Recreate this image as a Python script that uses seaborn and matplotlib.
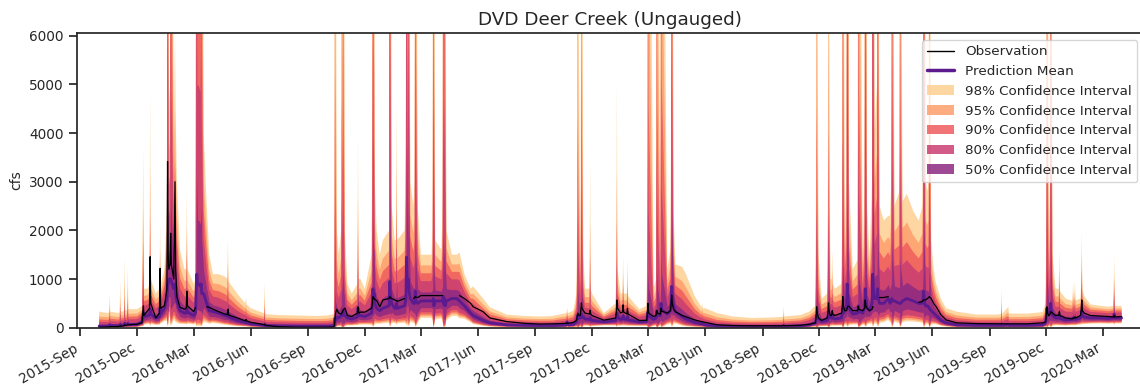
import numpy as np
import pandas as pd
import matplotlib
matplotlib.use("Agg")
import matplotlib.pyplot as plt
import matplotlib.dates as mdates
from matplotlib.patches import Patch
from matplotlib.lines import Line2D
import seaborn as sns

nan = np.nan

# ---- Water year 2016 -------------------------------------------------------
dates_wy2016 = [
    "2015-10-01", "2015-10-15", "2015-10-17", "2015-10-18", "2015-10-19", "2015-11-01",
    "2015-11-03", "2015-11-04", "2015-11-05", "2015-11-10", "2015-11-11", "2015-11-12",
    "2015-11-15", "2015-11-16", "2015-11-17", "2015-12-01", "2015-12-09", "2015-12-11",
    "2015-12-12", "2015-12-18", "2015-12-21", "2015-12-22", "2015-12-23", "2015-12-31",
    "2016-01-06", "2016-01-07", "2016-01-08", "2016-01-14", "2016-01-18", "2016-01-19",
    "2016-01-20", "2016-01-21", "2016-01-23", "2016-01-24", "2016-01-25", "2016-01-29",
    "2016-01-31", "2016-02-01", "2016-02-03", "2016-02-08", "2016-02-15", "2016-02-18",
    "2016-02-19", "2016-02-20", "2016-03-01", "2016-03-04", "2016-03-05", "2016-03-06",
    "2016-03-07", "2016-03-09", "2016-03-12", "2016-03-13", "2016-03-14", "2016-03-17",
    "2016-03-22", "2016-03-26", "2016-04-01", "2016-04-10", "2016-04-20", "2016-04-24",
    "2016-04-25", "2016-04-26", "2016-05-10", "2016-05-23", "2016-05-24", "2016-05-25",
    "2016-06-01", "2016-06-15", "2016-06-22", "2016-06-23", "2016-06-24", "2016-07-15",
    "2016-08-15", "2016-09-15",
]
obs_wy2016 = [
    10, 15, 18, 25, 20, 25,
    30, 40, 30, 40, 60, 50,
    55, 70, 60, 70, 100, 450,
    250, 350, 400, 1460, 500, 200,
    300, 1220, 400, 450, 800, 3415,
    1500, 1200, 1300, 1940, 1300, 1000,
    3000, 1200, 640, 420, 380, 400,
    750, 450, 330, 420, nan, nan,
    nan, nan, nan, nan, nan, nan,
    430, 420, 380, 330, 280, 270,
    380, 260, 200, 140, 170, 140,
    110, 80, 60, 70, 50, 20,
    10, 10,
]
mean_wy2016 = [
    35, 35, 40, 60, 45, 40,
    45, 70, 50, 55, 90, 60,
    60, 90, 65, 70, 120, 310,
    220, 250, 260, 380, 280, 200,
    220, 400, 280, 400, 600, 900,
    900, 1000, 1000, 1000, 950, 800,
    900, 700, 550, 350, 300, 300,
    400, 320, 250, 300, 800, 1100,
    900, 900, 850, 900, 700, 700,
    500, 350, 330, 300, 250, 240,
    300, 220, 150, 110, 120, 105,
    80, 60, 50, 70, 45, 40,
    35, 35,
]
upper98_wy2016 = [
    330, 300, 320, 700, 330, 300,
    320, 950, 330, 340, 1450, 360,
    360, 1250, 380, 380, 450, 3700,
    800, 800, 900, 4900, 1000, 700,
    800, 2100, 900, 1200, 2500, 35000,
    21000, 4500, 5000, 30000, 18000, 4000,
    6000, 4500, 3000, 1600, 1200, 1200,
    2800, 1200, 900, 1000, 20000, 40000,
    20000, 20000, 20000, 30000, 18000, 4000,
    2500, 1500, 1100, 1100, 1050, 1000,
    1800, 950, 700, 500, 620, 480,
    400, 330, 300, 920, 280, 260,
    250, 240,
]

# ---- Water year 2017 -------------------------------------------------------
dates_wy2017 = [
    "2016-10-01", "2016-10-12", "2016-10-13", "2016-10-14", "2016-10-15", "2016-10-17",
    "2016-10-20", "2016-10-24", "2016-10-25", "2016-10-26", "2016-10-27", "2016-10-28",
    "2016-10-30", "2016-11-03", "2016-11-10", "2016-11-19", "2016-11-20", "2016-11-21",
    "2016-11-24", "2016-12-01", "2016-12-12", "2016-12-13", "2016-12-14", "2016-12-15",
    "2016-12-16", "2016-12-17", "2016-12-20", "2016-12-25", "2016-12-30", "2017-01-09",
    "2017-01-10", "2017-01-11", "2017-01-13", "2017-01-18", "2017-01-20", "2017-01-21",
    "2017-01-22", "2017-02-03", "2017-02-05", "2017-02-06", "2017-02-07", "2017-02-08",
    "2017-02-09", "2017-02-10", "2017-02-12", "2017-02-17", "2017-02-19", "2017-02-20",
    "2017-02-21", "2017-02-24", "2017-03-01", "2017-03-18", "2017-03-20", "2017-03-21",
    "2017-03-22", "2017-03-24", "2017-04-03", "2017-04-05", "2017-04-06", "2017-04-07",
    "2017-04-08", "2017-04-09", "2017-04-11", "2017-04-20", "2017-04-28", "2017-05-02",
    "2017-05-10", "2017-05-20", "2017-05-24", "2017-06-09", "2017-06-20", "2017-07-17",
    "2017-08-15", "2017-09-08", "2017-09-30",
]
obs_wy2017 = [
    10, 15, 40, 160, 300, 380,
    300, 280, 300, 320, 360, 380,
    400, 250, 230, 300, 430, 300,
    320, 320, 400, 500, 640, 620,
    600, 580, 560, 430, 570, 600,
    640, 620, 600, 570, 560, 560,
    540, 600, nan, nan, nan, nan,
    nan, nan, nan, 600, 620, 640,
    630, 620, 660, 660, 660, 660,
    660, 660, 660, 660, nan, nan,
    nan, nan, nan, nan, nan, 660,
    600, 500, 430, 330, 200, 125,
    90, 75, 80,
]
mean_wy2017 = [
    35, 40, 80, 200, 150, 220,
    200, 250, 300, 250, 350, 260,
    250, 200, 180, 220, 400, 250,
    250, 230, 300, 500, 800, 600,
    700, 500, 400, 350, 400, 450,
    950, 700, 500, 400, 400, 500,
    400, 450, 600, 1450, 1000, 900,
    1000, 750, 600, 500, 500, 750,
    560, 500, 550, 550, 550, 600,
    450, 550, 550, 550, 640, 480,
    600, 450, 550, 600, 600, 550,
    450, 300, 250, 150, 100, 60,
    50, 45, 45,
]
upper98_wy2017 = [
    250, 280, 1000, 20000, 12000, 2000,
    1500, 2000, 15000, 9000, 25000, 15000,
    2000, 900, 700, 900, 3900, 1000,
    1000, 800, 1500, 6000, 30000, 18000,
    12000, 3000, 2000, 1500, 1800, 2000,
    35000, 21000, 2500, 1800, 1800, 4600,
    1800, 2000, 5000, 40000, 24000, 8000,
    30000, 18000, 3000, 2500, 3000, 25000,
    15000, 2500, 1500, 1500, 2000, 25000,
    15000, 1800, 1600, 2500, 30000, 18000,
    25000, 15000, 2000, 1500, 1500, 1550,
    1100, 800, 850, 600, 420, 270,
    240, 230, 240,
]

# ---- Water year 2018 -------------------------------------------------------
dates_wy2018 = [
    "2017-10-01", "2017-10-21", "2017-10-22", "2017-10-23", "2017-11-01", "2017-11-06",
    "2017-11-07", "2017-11-08", "2017-11-09", "2017-11-12", "2017-11-13", "2017-11-14",
    "2017-11-15", "2017-11-17", "2017-11-20", "2017-11-27", "2017-11-28", "2017-11-29",
    "2017-12-01", "2017-12-20", "2018-01-08", "2018-01-09", "2018-01-10", "2018-01-11",
    "2018-01-16", "2018-01-19", "2018-01-20", "2018-01-21", "2018-01-26", "2018-01-27",
    "2018-01-28", "2018-02-15", "2018-02-27", "2018-02-28", "2018-03-01", "2018-03-02",
    "2018-03-10", "2018-03-14", "2018-03-15", "2018-03-16", "2018-03-21", "2018-03-22",
    "2018-03-23", "2018-04-01", "2018-04-06", "2018-04-07", "2018-04-08", "2018-04-09",
    "2018-04-11", "2018-04-14", "2018-04-25", "2018-05-01", "2018-05-15", "2018-05-26",
    "2018-05-27", "2018-05-28", "2018-06-01", "2018-06-20", "2018-07-15", "2018-08-15",
    "2018-09-15",
]
obs_wy2018 = [
    80, 90, 100, 90, 110, 150,
    200, 300, 260, 250, 350, 510,
    400, 350, 300, 280, 360, 280,
    250, 155, 200, 300, 570, 400,
    300, 320, 470, 320, 280, 400,
    280, 150, 150, 300, 500, 300,
    230, 250, 350, 300, 280, 400,
    340, 300, 350, 450, 670, 500,
    380, 330, 250, 225, 160, 125,
    125, 120, 110, 60, 45, 40,
    40,
]
mean_wy2018 = [
    45, 60, 120, 60, 70, 120,
    180, 250, 190, 200, 250, 280,
    210, 220, 180, 170, 200, 160,
    150, 120, 150, 200, 300, 220,
    170, 180, 250, 180, 170, 230,
    160, 120, 130, 250, 330, 250,
    170, 200, 350, 260, 250, 500,
    375, 280, 350, 500, 850, 640,
    450, 330, 230, 180, 110, 80,
    85, 75, 60, 35, 30, 28,
    28,
]
upper98_wy2018 = [
    250, 300, 420, 300, 350, 700,
    2000, 14000, 8400, 1500, 3000, 20000,
    12000, 1500, 800, 800, 3400, 800,
    700, 300, 500, 1500, 5000, 1200,
    700, 700, 1460, 700, 700, 1400,
    650, 380, 450, 3000, 25000, 15000,
    800, 1000, 25000, 15000, 1200, 25000,
    15000, 1200, 1600, 4000, 30000, 18000,
    2500, 1300, 1250, 1100, 650, 420,
    500, 400, 400, 300, 230, 200,
    210,
]

# ---- Water year 2019 -------------------------------------------------------
dates_wy2019 = [
    "2018-10-01", "2018-10-04", "2018-10-05", "2018-10-06", "2018-11-01", "2018-11-15",
    "2018-11-25", "2018-11-26", "2018-11-27", "2018-11-28", "2018-11-30", "2018-12-05",
    "2018-12-14", "2018-12-15", "2018-12-16", "2018-12-17", "2018-12-19", "2018-12-21",
    "2018-12-22", "2018-12-23", "2018-12-26", "2019-01-06", "2019-01-07", "2019-01-08",
    "2019-01-09", "2019-01-11", "2019-01-14", "2019-01-15", "2019-01-16", "2019-01-18",
    "2019-01-24", "2019-02-01", "2019-02-02", "2019-02-03", "2019-02-09", "2019-02-12",
    "2019-02-13", "2019-02-14", "2019-02-16", "2019-02-20", "2019-02-24", "2019-02-25",
    "2019-02-26", "2019-02-28", "2019-03-04", "2019-03-05", "2019-03-06", "2019-03-08",
    "2019-03-15", "2019-03-22", "2019-03-25", "2019-03-27", "2019-03-28", "2019-03-29",
    "2019-04-01", "2019-04-09", "2019-04-10", "2019-04-11", "2019-04-14", "2019-04-21",
    "2019-05-01", "2019-05-10", "2019-05-16", "2019-05-17", "2019-05-18", "2019-05-19",
    "2019-05-21", "2019-05-24", "2019-05-26", "2019-05-27", "2019-05-28", "2019-05-30",
    "2019-06-03", "2019-06-07", "2019-06-15", "2019-06-23", "2019-07-10", "2019-08-10",
    "2019-09-12", "2019-09-19", "2019-09-20", "2019-09-21",
]
obs_wy2019 = [
    40, 40, 50, 40, 50, 70,
    100, 200, 430, 300, 200, 150,
    200, 300, 510, 350, 250, 250,
    350, 280, 250, 300, 400, 640,
    450, 350, 350, 400, 440, 440,
    350, 350, 440, 380, 350, 400,
    570, 450, 400, 350, 380, 430,
    430, nan, nan, nan, nan, 620,
    620, 640, nan, nan, nan, nan,
    nan, nan, nan, nan, nan, nan,
    nan, 520, 540, 560, 570, 570,
    570, 600, 620, 640, 620, 600,
    500, 430, 260, 160, 100, 85,
    80, 80, 85, 80,
]
mean_wy2019 = [
    30, 30, 45, 30, 40, 60,
    100, 180, 250, 190, 180, 130,
    150, 220, 300, 225, 200, 200,
    250, 200, 180, 200, 300, 400,
    300, 350, 400, 900, 675, 400,
    280, 300, 450, 340, 300, 400,
    800, 600, 400, 350, 500, 1100,
    825, 600, 600, 800, 600, 500,
    500, 600, 500, 550, 600, 550,
    550, 500, 500, 500, 550, 600,
    550, 500, 500, 600, 750, 560,
    450, 450, 420, 400, 380, 350,
    300, 250, 150, 100, 60, 50,
    50, 50, 70, 50,
]
upper98_wy2019 = [
    220, 230, 430, 230, 260, 330,
    450, 3000, 15000, 9000, 1500, 600,
    700, 2500, 12000, 7200, 1000, 1000,
    1600, 900, 800, 900, 3000, 25000,
    15000, 2000, 3000, 40000, 24000, 3000,
    1200, 1400, 25000, 15000, 1400, 3000,
    35000, 21000, 2500, 1500, 3000, 45000,
    27000, 4000, 5000, 25000, 15000, 2500,
    2200, 2300, 2300, 3000, 25000, 15000,
    2500, 2800, 20000, 12000, 2600, 2750,
    2400, 2200, 2500, 5000, 35000, 21000,
    3000, 2800, 3000, 20000, 12000, 1800,
    1200, 900, 580, 400, 330, 270,
    270, 280, 780, 280,
]

# ---- Water year 2020 (through March) --------------------------------------
dates_wy2020 = [
    "2019-10-01", "2019-10-02", "2019-11-01", "2019-11-25", "2019-11-30", "2019-12-01",
    "2019-12-02", "2019-12-03", "2019-12-05", "2019-12-07", "2019-12-08", "2019-12-09",
    "2019-12-11", "2019-12-16", "2019-12-21", "2019-12-22", "2019-12-23", "2020-01-01",
    "2020-01-12", "2020-01-13", "2020-01-14", "2020-01-15", "2020-01-16", "2020-01-17",
    "2020-01-25", "2020-01-26", "2020-01-27", "2020-01-28", "2020-01-31", "2020-02-10",
    "2020-02-25", "2020-03-10", "2020-03-18", "2020-03-19", "2020-03-20", "2020-03-31",
]
obs_wy2020 = [
    80, 80, 80, 100, 120, 250,
    430, 300, 250, 280, 330, 320,
    300, 250, 260, 330, 250, 200,
    180, 200, 190, 200, 220, 200,
    250, 350, 570, 350, 300, 250,
    240, 230, 220, 250, 220, 230,
]
mean_wy2020 = [
    60, 50, 50, 60, 100, 250,
    400, 300, 250, 300, 500, 375,
    250, 200, 200, 250, 190, 160,
    170, 200, 180, 180, 200, 170,
    200, 250, 350, 240, 220, 200,
    200, 190, 200, 280, 200, 200,
]
upper98_wy2020 = [
    430, 290, 290, 320, 500, 3000,
    20000, 12000, 2000, 3000, 25000, 15000,
    1500, 800, 800, 1600, 750, 600,
    550, 920, 600, 600, 960, 560,
    600, 900, 1980, 800, 650, 480,
    450, 430, 450, 1500, 450, 450,
]

levels = [98, 95, 90, 80, 50]
z_scores = {98: 2.326, 95: 1.960, 90: 1.645, 80: 1.282, 50: 0.674}

# ---- assemble ---------------------------------------------------------------
years = [
    (dates_wy2016, obs_wy2016, mean_wy2016, upper98_wy2016),
    (dates_wy2017, obs_wy2017, mean_wy2017, upper98_wy2017),
    (dates_wy2018, obs_wy2018, mean_wy2018, upper98_wy2018),
    (dates_wy2019, obs_wy2019, mean_wy2019, upper98_wy2019),
    (dates_wy2020, obs_wy2020, mean_wy2020, upper98_wy2020),
]
frames = []
for d, o, m, u in years:
    assert len(d) == len(o) == len(m) == len(u), (d[0], len(d), len(o), len(m), len(u))
    frames.append(pd.DataFrame({"date": pd.to_datetime(d), "obs": o,
                                "mean": m, "upper98": u}))
df = pd.concat(frames, ignore_index=True)

# log-normal predictive spread implied by the 98% upper bound
sigma = np.log(df["upper98"] / df["mean"]) / z_scores[98]

sns.set_theme(style="ticks")
plt.rcParams["font.family"] = ["DejaVu Sans"]

magma = sns.color_palette("magma", as_cmap=True)
band_colors = {98: magma(0.90), 95: magma(0.80), 90: magma(0.66),
               80: magma(0.55), 50: magma(0.40)}
band_alpha = 0.85
mean_color = "#5b1a8e"

fig = plt.figure(figsize=(11.4, 3.9), dpi=100)
ax = fig.add_axes([76.7 / 1140, 62.3 / 390, 1067.3 / 1140, 294.4 / 390])

for lev in levels:
    lo = df["mean"] * np.exp(-z_scores[lev] * sigma)
    hi = df["mean"] * np.exp(z_scores[lev] * sigma)
    ax.fill_between(df["date"], lo, hi, color=band_colors[lev],
                    alpha=band_alpha, linewidth=0)

sns.lineplot(data=df, x="date", y="mean", color=mean_color, linewidth=2,
             estimator=None, ax=ax)
ax.plot(df["date"], df["obs"], color="black", linewidth=0.9)

ax.set_xlim(pd.Timestamp("2015-08-26"), pd.Timestamp("2020-05-06"))
ax.set_ylim(0, 6050)
ax.set_yticks(range(0, 7000, 1000))
ax.xaxis.set_major_locator(mdates.MonthLocator(bymonth=[3, 6, 9, 12]))
ax.xaxis.set_major_formatter(mdates.DateFormatter("%Y-%b"))
ax.tick_params(labelsize=9.8, length=6, width=1.25, colors=".15")
plt.setp(ax.get_xticklabels(), rotation=30, ha="right")
for sp in ax.spines.values():
    sp.set_linewidth(1.25)
    sp.set_color(".15")

ax.set_xlabel("")
ax.set_ylabel("cfs", fontsize=10, color=".15")
ax.set_title("DVD Deer Creek (Ungauged)", fontsize=13.2, color=".15")

handles = [Line2D([], [], color="black", linewidth=1),
           Line2D([], [], color=mean_color, linewidth=2.5)]
labels = ["Observation", "Prediction Mean"]
for lev in levels:
    handles.append(Patch(facecolor=band_colors[lev], alpha=band_alpha, linewidth=0))
    labels.append(f"{lev}% Confidence Interval")
ax.legend(handles, labels, loc="upper right", fontsize=9.7, frameon=True,
          borderaxespad=0.5)

fig.savefig("out.png", dpi=100)
